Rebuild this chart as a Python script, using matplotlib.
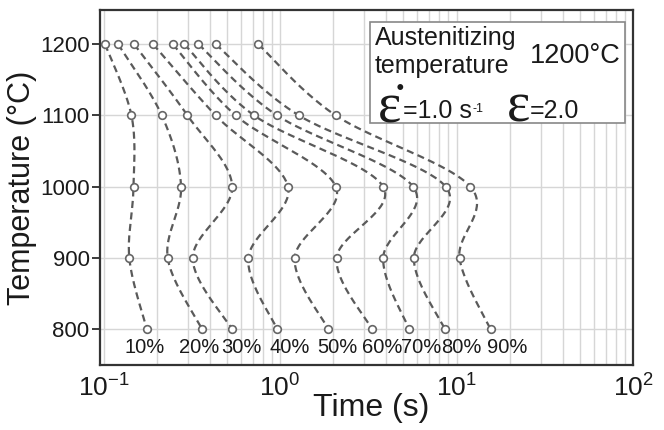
import numpy as np
import matplotlib
matplotlib.use("Agg")
import matplotlib.pyplot as plt
from matplotlib.patches import Rectangle
from matplotlib.ticker import LogLocator, NullFormatter

plt.rcParams['font.family'] = ['Liberation Sans', 'DejaVu Sans']
plt.rcParams['mathtext.fontset'] = 'custom'
plt.rcParams['mathtext.rm'] = 'Liberation Sans'
plt.rcParams['mathtext.it'] = 'Liberation Sans:italic'
plt.rcParams['mathtext.bf'] = 'Liberation Sans:bold'

# temperatures (deg C) and start times (s) of each fraction curve
temps = [1200, 1100, 1000, 900, 800]
t10 = [0.102, 0.144, 0.148, 0.140, 0.176]
t20 = [0.121, 0.214, 0.275, 0.231, 0.362]
t30 = [0.149, 0.299, 0.536, 0.320, 0.536]
t40 = [0.191, 0.432, 1.11, 0.661, 0.964]
t50 = [0.247, 0.561, 2.07, 1.21, 1.88]
t60 = [0.287, 0.714, 3.84, 2.09, 3.33]
t70 = [0.345, 0.964, 5.68, 3.84, 5.40]
t80 = [0.432, 1.28, 8.69, 5.73, 8.61]
t90 = [0.753, 2.07, 12.0, 10.4, 15.6]
curves = [t10, t20, t30, t40, t50, t60, t70, t80, t90]
fractions = ['10%', '20%', '30%', '40%', '50%', '60%', '70%', '80%', '90%']
label_t = [0.172, 0.347, 0.608, 1.14, 2.10, 3.77, 6.28, 10.7, 19.3]
label_T = 774

xticks = [0.1, 1, 10, 100]
xticklabels = [r'$10^{-1}$', r'$10^{0}$', r'$10^{1}$', r'$10^{2}$']

narrow = ['Liberation Sans Narrow', 'Liberation Sans', 'DejaVu Sans']
serif = ['Liberation Serif', 'DejaVu Serif']


def catmull(x, y, n=40):
    # smooth line through the points (uniform Catmull-Rom)
    p = np.column_stack([x, y])
    p = np.vstack([p[0], p, p[-1]])
    s = np.linspace(0, 1, n, endpoint=False)
    out = []
    for i in range(1, len(p) - 2):
        p0, p1, p2, p3 = p[i - 1], p[i], p[i + 1], p[i + 2]
        for u in s:
            out.append(0.5 * ((2 * p1) + (-p0 + p2) * u
                              + (2 * p0 - 5 * p1 + 4 * p2 - p3) * u ** 2
                              + (-p0 + 3 * p1 - 3 * p2 + p3) * u ** 3))
    out.append(p[-2])
    out = np.array(out)
    return out[:, 0], out[:, 1]


fig = plt.figure(figsize=(6.64, 4.30), dpi=100)
ax = fig.add_axes([0.1506, 0.1512, 0.8027, 0.8256])
ax.set_xscale('log')

for tt in curves:
    lx, ly = catmull(np.log10(tt), temps)
    ax.plot(10 ** lx, ly, color='#5a5a5a', lw=1.6, ls=(0, (3.2, 2.0)), zorder=2)
    ax.plot(tt, temps, 'o', ms=5.5, mfc='white', mec='#666666', mew=1.2, zorder=3)

for lab, x in zip(fractions, label_t):
    ax.text(x, label_T, lab, ha='center', va='center', fontsize=14.5,
            family=narrow, color='#1a1a1a')

ax.set_xlim(0.0955, 100)
ax.set_ylim(750, 1248)
ax.set_xticks(xticks)
ax.set_xticklabels(xticklabels)
ax.xaxis.set_minor_locator(LogLocator(base=10, subs=np.arange(2, 10)))
ax.xaxis.set_minor_formatter(NullFormatter())
ax.set_yticks(temps)
ax.set_yticklabels([str(t) for t in temps], family=narrow)

ax.grid(which='both', axis='x', color='#d6d6d6', lw=1.0)
ax.grid(which='major', axis='y', color='#d6d6d6', lw=1.0)
ax.set_axisbelow(True)

ax.tick_params(axis='x', which='both', length=0, labelsize=19, pad=7, colors='#1a1a1a')
ax.tick_params(axis='y', length=6, width=1.2, labelsize=16, pad=1.5, colors='#1a1a1a')
for s in ax.spines.values():
    s.set_linewidth(1.6)
    s.set_color('#333333')

ax.set_xlabel('Time (s)', fontsize=23, color='#1a1a1a')
ax.xaxis.label.set_va('center')
ax.xaxis.set_label_coords(0.508, -0.121)
ax.set_ylabel('Temperature (°C)', fontsize=22, color='#1a1a1a')
ax.yaxis.label.set_va('center')
ax.yaxis.set_label_coords(-0.146, 0.5)

# condition box
ax.add_patch(Rectangle((0.5066, 0.681), 0.4784, 0.286, transform=ax.transAxes,
                       facecolor='white', edgecolor='#888888', lw=1.2, zorder=4))
tc = '#1a1a1a'
ax.text(0.516, 0.901, 'Austenitizing', transform=ax.transAxes, fontsize=18,
        va='baseline', color=tc, zorder=5)
ax.text(0.516, 0.8225, 'temperature', transform=ax.transAxes, fontsize=18,
        va='baseline', color=tc, zorder=5)
ax.text(0.8068, 0.8498, '1200°C', transform=ax.transAxes, fontsize=19.5,
        va='baseline', color=tc, zorder=5)
ax.text(0.522, 0.685, 'ε\u0307', transform=ax.transAxes, fontsize=40,
        va='baseline', color=tc, family=serif, zorder=5)
ax.text(0.5685, 0.695, '=1.0 s', transform=ax.transAxes, fontsize=18,
        va='baseline', color=tc, zorder=5)
ax.text(0.698, 0.7135, '-1', transform=ax.transAxes, fontsize=9,
        va='baseline', color=tc, zorder=5)
ax.text(0.785, 0.685, 'ε', transform=ax.transAxes, fontsize=40, ha='center',
        va='baseline', color=tc, family=serif, zorder=5)
ax.text(0.8068, 0.695, '=2.0', transform=ax.transAxes, fontsize=18,
        va='baseline', color=tc, zorder=5)

fig.savefig('out.png', dpi=100)
